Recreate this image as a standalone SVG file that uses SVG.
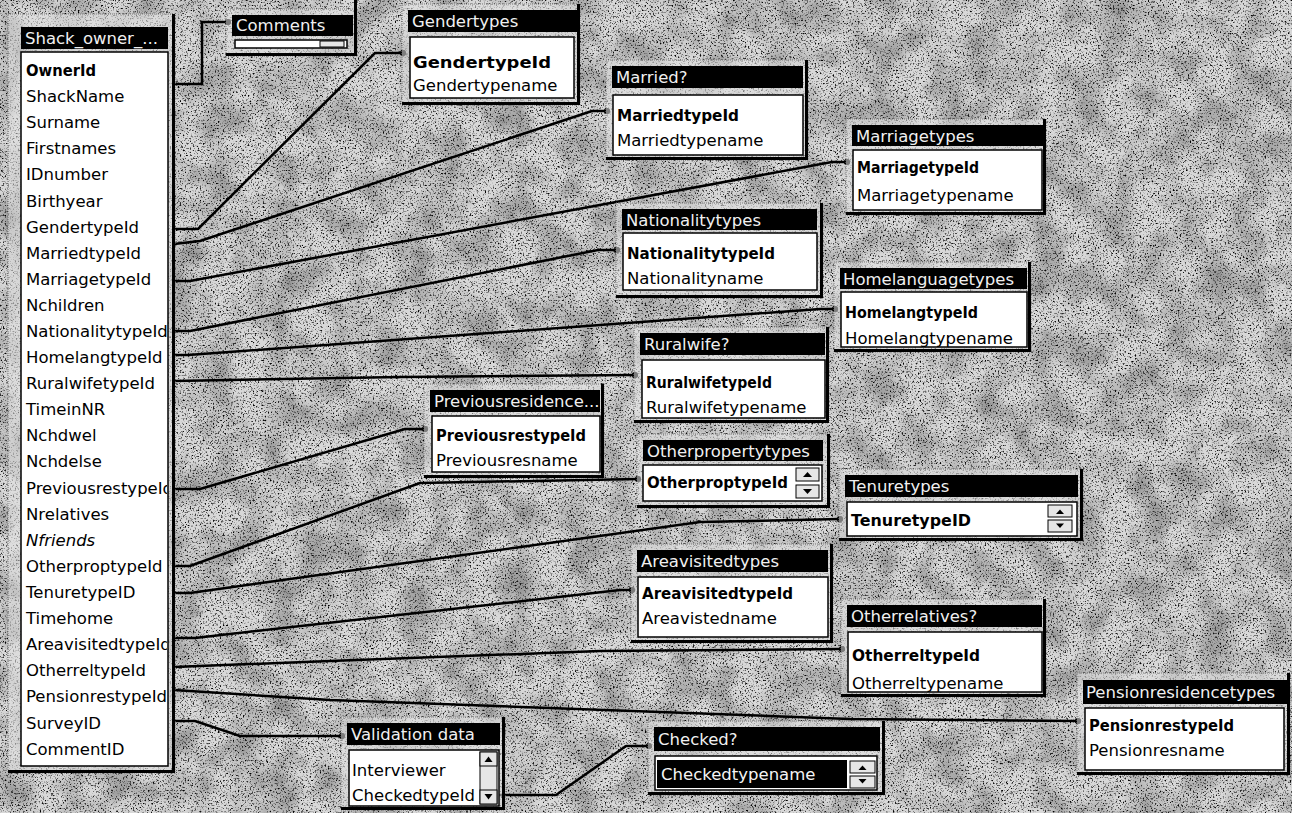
<svg xmlns="http://www.w3.org/2000/svg" width="1292" height="813" viewBox="0 0 1292 813">
<style>
.frame{fill:#e2e2e2;fill-opacity:0.55;stroke:#7a7a7a;stroke-width:1;stroke-dasharray:1 1}
.shadow{fill:none;stroke:#000;stroke-width:3}
.tbar{fill:#000}
.ttl{fill:#f0f0f0;font-family:"DejaVu Sans",Verdana,sans-serif;font-size:16.5px}
.body{fill:#fff;stroke:#000;stroke-width:1.5}
.fld{fill:#000;font-family:"DejaVu Sans",Verdana,sans-serif;font-size:16.5px}
.pk{font-weight:bold}
.it{font-style:italic}
.conn{fill:none;stroke:#000;stroke-width:2.5;stroke-linejoin:round;marker-end:url(#dot)}
.btn{fill:#e6e6e6;stroke:#000;stroke-width:1}
.arr{fill:#000}
</style>
<defs>
<filter id="grain" x="0" y="0" width="1" height="1">
<feTurbulence type="fractalNoise" baseFrequency="0.6" numOctaves="2" seed="7" result="n"/>
<feColorMatrix in="n" type="matrix" values="0 0 0 0 0  0 0 0 0 0  0 0 0 0 0  4 0 0 0 -2.15"/>
</filter>
<filter id="mottle" x="0" y="0" width="1" height="1">
<feTurbulence type="fractalNoise" baseFrequency="0.03" numOctaves="3" seed="3" result="m"/>
<feColorMatrix in="m" type="matrix" values="0 0 0 0 0  0 0 0 0 0  0 0 0 0 0  0.6 0 0 0 -0.22"/>
</filter>
<marker id="dot" viewBox="0 0 8 8" refX="4" refY="4" markerWidth="7" markerHeight="7" markerUnits="userSpaceOnUse">
<circle cx="4" cy="4" r="3.6" fill="#000"/>
</marker>
<clipPath id="shackclip"><rect x="21" y="52" width="146" height="714"/></clipPath>
</defs>
<rect width="1292" height="813" fill="#d8d8d8"/>
<rect width="1292" height="813" filter="url(#mottle)"/>
<rect width="1292" height="813" filter="url(#grain)"/>

<g id="connectors">
<path class="conn" d="M174,84 H202 V22 H228"/>
<path class="conn" d="M174,229 H198 L375,53 H403"/>
<path class="conn" d="M174,244 L200,241 L592,111 H607"/>
<path class="conn" d="M174,281 H190 L832,162 H847"/>
<path class="conn" d="M174,331 H190 L598,250 H617"/>
<path class="conn" d="M174,355 H188 L820,309 H835"/>
<path class="conn" d="M174,381 L400,377 L635,375"/>
<path class="conn" d="M174,489 H200 L405,429 H425"/>
<path class="conn" d="M174,566 H190 L420,483 L638,479"/>
<path class="conn" d="M174,593 H190 L700,522 L840,519"/>
<path class="conn" d="M174,638 H195 L620,590 H632"/>
<path class="conn" d="M174,667 L330,661 L600,651 L842,649"/>
<path class="conn" d="M174,690 L330,700 L850,719 L1078,721"/>
<path class="conn" d="M174,721 H195 L240,736 H342"/>
<path class="conn" d="M499,795 H556 L626,746 H649"/>
</g>

<g id="shack_owner">
<rect class="frame" x="8" y="14" width="167" height="759"/>
<path class="shadow" d="M173.5,14 V771.5 H8"/>
<rect class="tbar" x="21" y="27" width="147" height="22"/>
<text class="ttl" x="25" y="44">Shack_owner_...</text>
<rect class="body" x="21" y="52" width="147" height="714"/>
<g clip-path="url(#shackclip)">
<text class="fld pk" x="26" y="76" textLength="70" lengthAdjust="spacingAndGlyphs">OwnerId</text>
<text class="fld" x="26" y="102">ShackName</text>
<text class="fld" x="26" y="128">Surname</text>
<text class="fld" x="26" y="154">Firstnames</text>
<text class="fld" x="26" y="180">IDnumber</text>
<text class="fld" x="26" y="207">Birthyear</text>
<text class="fld" x="26" y="233">GendertypeId</text>
<text class="fld" x="26" y="259">MarriedtypeId</text>
<text class="fld" x="26" y="285">MarriagetypeId</text>
<text class="fld" x="26" y="311">Nchildren</text>
<text class="fld" x="26" y="337">NationalitytypeId</text>
<text class="fld" x="26" y="363">HomelangtypeId</text>
<text class="fld" x="26" y="389">RuralwifetypeId</text>
<text class="fld" x="26" y="415">TimeinNR</text>
<text class="fld" x="26" y="441">Nchdwel</text>
<text class="fld" x="26" y="467">Nchdelse</text>
<text class="fld" x="26" y="494">PreviousrestypeId</text>
<text class="fld" x="26" y="520">Nrelatives</text>
<text class="fld it" x="26" y="546">Nfriends</text>
<text class="fld" x="26" y="572">OtherproptypeId</text>
<text class="fld" x="26" y="598">TenuretypeID</text>
<text class="fld" x="26" y="624">Timehome</text>
<text class="fld" x="26" y="650">AreavisitedtypeId</text>
<text class="fld" x="26" y="676">OtherreltypeId</text>
<text class="fld" x="26" y="702">PensionrestypeId</text>
<text class="fld" x="26" y="729">SurveyID</text>
<text class="fld" x="26" y="755">CommentID</text>
</g>
</g>

<g id="comments">
<rect class="frame" x="226" y="9" width="131" height="47"/>
<path class="shadow" d="M355.5,0 V54.5 H226"/>
<rect class="tbar" x="232" y="15" width="121" height="21"/>
<text class="ttl" x="236" y="31">Comments</text>
<rect class="body" x="235" y="40" width="112" height="8"/>
<rect class="btn" x="320" y="41" width="24" height="6"/>
</g>

<g id="gendertypes">
<rect class="frame" x="402" y="4" width="178" height="101"/>
<path class="shadow" d="M578.5,4 V103.5 H402"/>
<rect class="tbar" x="408" y="10" width="169" height="22"/>
<text class="ttl" x="412" y="27">Gendertypes</text>
<rect class="body" x="410" y="37" width="164" height="61"/>
<text class="fld pk" x="413" y="68" textLength="138" lengthAdjust="spacingAndGlyphs">GendertypeId</text>
<text class="fld" x="413" y="91">Gendertypename</text>
</g>

<g id="married">
<rect class="frame" x="606" y="60" width="202" height="100"/>
<path class="shadow" d="M806.5,60 V158.5 H606"/>
<rect class="tbar" x="612" y="66" width="191" height="22"/>
<text class="ttl" x="616" y="83">Married?</text>
<rect class="body" x="613" y="95" width="190" height="60"/>
<text class="fld pk" x="617" y="121" textLength="122" lengthAdjust="spacingAndGlyphs">MarriedtypeId</text>
<text class="fld" x="617" y="146">Marriedtypename</text>
</g>

<g id="marriagetypes">
<rect class="frame" x="846" y="119" width="200" height="96"/>
<path class="shadow" d="M1044.5,119 V213.5 H846"/>
<rect class="tbar" x="852" y="125" width="191" height="21"/>
<text class="ttl" x="856" y="142">Marriagetypes</text>
<rect class="body" x="853" y="150" width="189" height="60"/>
<text class="fld pk" x="857" y="173" textLength="122" lengthAdjust="spacingAndGlyphs">MarriagetypeId</text>
<text class="fld" x="857" y="201">Marriagetypename</text>
</g>

<g id="nationalitytypes">
<rect class="frame" x="616" y="203" width="207" height="95"/>
<path class="shadow" d="M821.5,203 V296.5 H616"/>
<rect class="tbar" x="622" y="209" width="195" height="21"/>
<text class="ttl" x="626" y="226">Nationalitytypes</text>
<rect class="body" x="623" y="233" width="194" height="57"/>
<text class="fld pk" x="627" y="259" textLength="148" lengthAdjust="spacingAndGlyphs">NationalitytypeId</text>
<text class="fld" x="627" y="284">Nationalityname</text>
</g>

<g id="homelanguagetypes">
<rect class="frame" x="834" y="262" width="197" height="90"/>
<path class="shadow" d="M1029.5,262 V350.5 H834"/>
<rect class="tbar" x="840" y="268" width="187" height="21"/>
<text class="ttl" x="843" y="285">Homelanguagetypes</text>
<rect class="body" x="841" y="292" width="186" height="55"/>
<text class="fld pk" x="845" y="318" textLength="133" lengthAdjust="spacingAndGlyphs">HomelangtypeId</text>
<text class="fld" x="845" y="344">Homelangtypename</text>
</g>

<g id="ruralwife">
<rect class="frame" x="634" y="327" width="195" height="96"/>
<path class="shadow" d="M827.5,327 V421.5 H634"/>
<rect class="tbar" x="640" y="333" width="185" height="22"/>
<text class="ttl" x="644" y="350">Ruralwife?</text>
<rect class="body" x="642" y="360" width="183" height="58"/>
<text class="fld pk" x="646" y="388" textLength="126" lengthAdjust="spacingAndGlyphs">RuralwifetypeId</text>
<text class="fld" x="646" y="413">Ruralwifetypename</text>
</g>

<g id="previousresidence">
<rect class="frame" x="424" y="384" width="180" height="94"/>
<path class="shadow" d="M602.5,384 V476.5 H424"/>
<rect class="tbar" x="430" y="390" width="170" height="22"/>
<text class="ttl" x="434" y="407">Previousresidence...</text>
<rect class="body" x="432" y="416" width="168" height="56"/>
<text class="fld pk" x="436" y="441" textLength="150" lengthAdjust="spacingAndGlyphs">PreviousrestypeId</text>
<text class="fld" x="436" y="466">Previousresname</text>
</g>

<g id="otherpropertytypes">
<rect class="frame" x="637" y="434" width="193" height="74"/>
<path class="shadow" d="M828.5,434 V506.5 H637"/>
<rect class="tbar" x="643" y="440" width="180" height="21"/>
<text class="ttl" x="647" y="457">Otherpropertytypes</text>
<rect class="body" x="643" y="465" width="179" height="36"/>
<text class="fld pk" x="647" y="488" textLength="141" lengthAdjust="spacingAndGlyphs">OtherproptypeId</text>
<rect class="btn" x="796" y="468" width="23" height="13"/>
<polygon class="arr" points="803,477 807.5,472 812,477"/>
<rect class="btn" x="796" y="485" width="23" height="13"/>
<polygon class="arr" points="803,489 807.5,494 812,489"/>
</g>

<g id="tenuretypes">
<rect class="frame" x="839" y="469" width="244" height="72"/>
<path class="shadow" d="M1081.5,469 V539.5 H839"/>
<rect class="tbar" x="845" y="475" width="233" height="22"/>
<text class="ttl" x="849" y="492">Tenuretypes</text>
<rect class="body" x="847" y="502" width="230" height="34"/>
<text class="fld pk" x="851" y="526" textLength="120" lengthAdjust="spacingAndGlyphs">TenuretypeID</text>
<rect class="btn" x="1048" y="505" width="24" height="12"/>
<polygon class="arr" points="1056,514 1060,509.5 1064,514"/>
<rect class="btn" x="1048" y="520" width="24" height="12"/>
<polygon class="arr" points="1056,523.5 1060,528 1064,523.5"/>
</g>

<g id="areavisitedtypes">
<rect class="frame" x="631" y="544" width="202" height="99"/>
<path class="shadow" d="M831.5,544 V641.5 H631"/>
<rect class="tbar" x="637" y="550" width="191" height="22"/>
<text class="ttl" x="641" y="567">Areavisitedtypes</text>
<rect class="body" x="638" y="577" width="190" height="60"/>
<text class="fld pk" x="642" y="599" textLength="151" lengthAdjust="spacingAndGlyphs">AreavisitedtypeId</text>
<text class="fld" x="642" y="624">Areavistedname</text>
</g>

<g id="otherrelatives">
<rect class="frame" x="841" y="599" width="205" height="98"/>
<path class="shadow" d="M1044.5,599 V695.5 H841"/>
<rect class="tbar" x="847" y="605" width="195" height="22"/>
<text class="ttl" x="851" y="622">Otherrelatives?</text>
<rect class="body" x="848" y="632" width="194" height="60"/>
<text class="fld pk" x="852" y="661" textLength="128" lengthAdjust="spacingAndGlyphs">OtherreltypeId</text>
<text class="fld" x="852" y="689">Otherreltypename</text>
</g>

<g id="pensionresidencetypes">
<rect class="frame" x="1077" y="673" width="213" height="102"/>
<path class="shadow" d="M1288.5,673 V773.5 H1077"/>
<rect class="tbar" x="1083" y="680" width="204" height="24"/>
<text class="ttl" x="1086" y="698">Pensionresidencetypes</text>
<rect class="body" x="1085" y="708" width="199" height="62"/>
<text class="fld pk" x="1089" y="731" textLength="145" lengthAdjust="spacingAndGlyphs">PensionrestypeId</text>
<text class="fld" x="1089" y="756">Pensionresname</text>
</g>

<g id="validation_data">
<rect class="frame" x="341" y="717" width="164" height="93"/>
<path class="shadow" d="M503.5,717 V808.5 H341"/>
<rect class="tbar" x="347" y="723" width="153" height="22"/>
<text class="ttl" x="351" y="740">Validation data</text>
<rect class="body" x="349" y="750" width="150" height="56"/>
<text class="fld" x="352" y="776">Interviewer</text>
<text class="fld" x="352" y="801">CheckedtypeId</text>
<rect class="btn" x="480" y="752" width="17" height="52" fill="#cfcfcf"/>
<rect class="btn" x="480" y="752" width="17" height="14"/>
<polygon class="arr" points="484.5,762 488.5,756.5 492.5,762"/>
<rect class="btn" x="480" y="790" width="17" height="14"/>
<polygon class="arr" points="484.5,794 488.5,799.5 492.5,794"/>
</g>

<g id="checked">
<rect class="frame" x="648" y="721" width="237" height="74"/>
<path class="shadow" d="M883.5,721 V793.5 H648"/>
<rect class="tbar" x="654" y="727" width="226" height="24"/>
<text class="ttl" x="658" y="745">Checked?</text>
<rect class="body" x="655" y="756" width="222" height="34"/>
<rect class="tbar" x="657" y="760" width="190" height="28"/>
<text class="fld" x="661" y="780" style="fill:#f4f4f4">Checkedtypename</text>
<rect class="btn" x="850" y="761" width="25" height="12"/>
<polygon class="arr" points="858.5,770 862.5,765.5 866.5,770"/>
<rect class="btn" x="850" y="776" width="25" height="12"/>
<polygon class="arr" points="858.5,779 862.5,783.5 866.5,779"/>
</g>
</svg>
